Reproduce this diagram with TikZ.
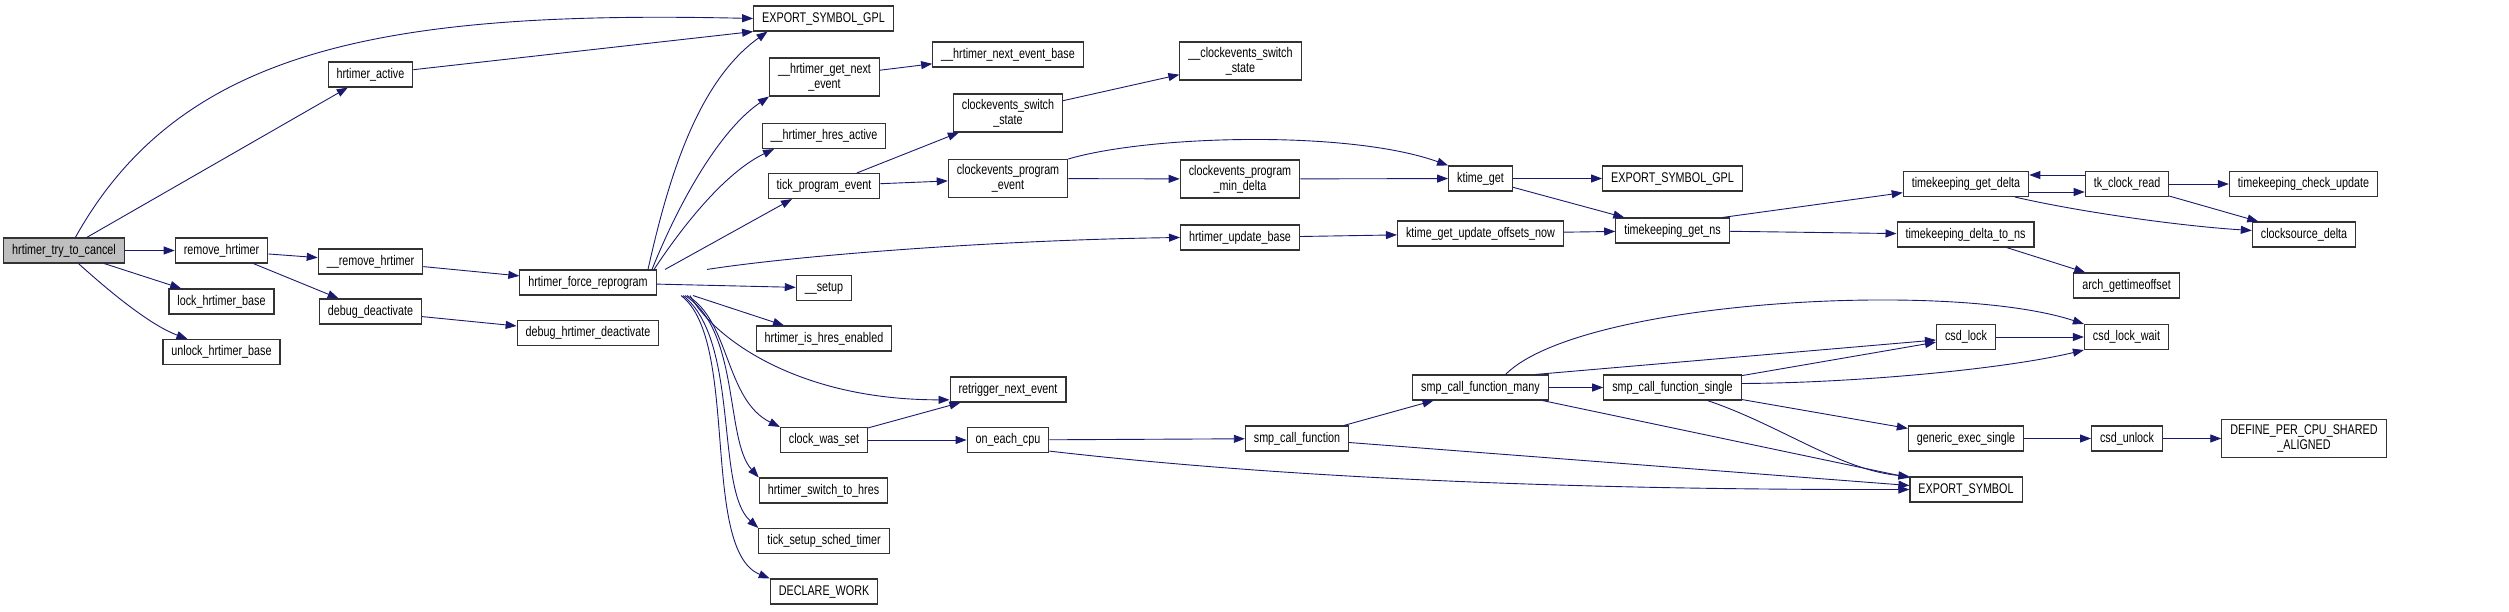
\documentclass[tikz,border=0pt]{standalone}
\usepackage{fontspec}
\setmainfont{Liberation Sans}[FakeStretch=0.77]
\usetikzlibrary{arrows.meta}
\definecolor{edgeblue}{HTML}{191970}
\definecolor{boxline}{HTML}{333333}
\definecolor{rootfill}{HTML}{BFBFBF}
\begin{document}
\begin{tikzpicture}[x=1pt, y=-1pt, >={Triangle[length=11pt,width=8pt]},
    fn/.style={draw=boxline, line width=1.1pt, fill=white, inner xsep=8.5pt, inner ysep=5pt,
      minimum height=25pt, align=center, font=\fontsize{14}{15}\selectfont},
    rootfn/.style={fn, fill=rootfill},
    call/.style={->, edgeblue, line width=0.9pt}]
    \useasboundingbox (0,0) rectangle (2509,611);
    % column 0 and 1
    \node[rootfn] (root)     at (64,250.5)   {hrtimer\_try\_to\_cancel};
    \node[fn]     (remove)   at (221.5,250.5) {remove\_hrtimer};
    \node[fn]     (lockb)    at (221.5,301.5) {lock\_hrtimer\_base};
    \node[fn]     (unlockb)  at (221.5,352)   {unlock\_hrtimer\_base};
    % column 2
    \node[fn] (active)   at (370.5,74.5)  {hrtimer\_active};
    \node[fn] (rmv)      at (370.5,261.5) {\_\_remove\_hrtimer};
    \node[fn] (dbgdeact) at (370.5,311.5) {debug\_deactivate};
    % column 3
    \node[fn] (force)  at (588,282.5) {hrtimer\_force\_reprogram};
    \node[fn] (dbghrt) at (588,333)   {debug\_hrtimer\_deactivate};
    % column 4
    \node[fn] (esgA)       at (823.5,18.5)  {EXPORT\_SYMBOL\_GPL};
    \node[fn] (getnext)    at (824.5,77)    {\_\_hrtimer\_get\_next\\\_event};
    \node[fn] (hresact)    at (824,136)     {\_\_hrtimer\_hres\_active};
    \node[fn] (tickprog)   at (824,186)     {tick\_program\_event};
    \node[fn] (setup)      at (824,288)     {\_\_setup};
    \node[fn] (ishres)     at (824,338.5)   {hrtimer\_is\_hres\_enabled};
    \node[fn] (clockset)   at (824,440)     {clock\_was\_set};
    \node[fn] (switchhres) at (823.5,490.5) {hrtimer\_switch\_to\_hres};
    \node[fn] (ticksched)  at (824,541)     {tick\_setup\_sched\_timer};
    \node[fn] (declwork)   at (824,591.5)   {DECLARE\_WORK};
    % column 5
    \node[fn] (nextbase) at (1008,54.5)  {\_\_hrtimer\_next\_event\_base};
    \node[fn] (csstate)  at (1008,113)   {clockevents\_switch\\\_state};
    \node[fn] (cpevent)  at (1008,178.5) {clockevents\_program\\\_event};
    \node[fn] (retrig)   at (1008,389.5) {retrigger\_next\_event};
    \node[fn] (oncpu)    at (1008,440)   {on\_each\_cpu};
    % column 6
    \node[fn] (csstate2) at (1240.5,61)  {\_\_clockevents\_switch\\\_state};
    \node[fn] (mindelta) at (1240,179)   {clockevents\_program\\\_min\_delta};
    \node[fn] (updbase)  at (1240,237.5) {hrtimer\_update\_base};
    \node[fn] (smpcall)  at (1297,438.5) {smp\_call\_function};
    % column 7
    \node[fn] (ktime)   at (1480.5,178.5) {ktime\_get};
    \node[fn] (offsets) at (1480.5,233.5) {ktime\_get\_update\_offsets\_now};
    \node[fn] (many)    at (1480.5,387.5) {smp\_call\_function\_many};
    % column 8
    \node[fn] (esgB)   at (1672.5,178.5) {EXPORT\_SYMBOL\_GPL};
    \node[fn] (getns)  at (1672.5,230.5) {timekeeping\_get\_ns};
    \node[fn] (single) at (1672.5,387.5) {smp\_call\_function\_single};
    % column 9
    \node[fn] (gdelta)  at (1966,184)    {timekeeping\_get\_delta};
    \node[fn] (dtons)   at (1965.5,234.5) {timekeeping\_delta\_to\_ns};
    \node[fn] (csdlock) at (1966,337)    {csd\_lock};
    \node[fn] (generic) at (1966,438.5)  {generic\_exec\_single};
    \node[fn] (esym)    at (1966,489.5)  {EXPORT\_SYMBOL};
    % column 10
    \node[fn] (tkread)   at (2127,184)    {tk\_clock\_read};
    \node[fn] (arch)     at (2126.5,285.5) {arch\_gettimeoffset};
    \node[fn] (lockwait) at (2126.5,337)  {csd\_lock\_wait};
    \node[fn] (unlock)   at (2127,438.5)  {csd\_unlock};
    % column 11
    \node[fn] (chkupd)  at (2303.5,184)  {timekeeping\_check\_update};
    \node[fn] (csdelta) at (2304,234.5)  {clocksource\_delta};
    \node[fn] (percpu)  at (2304,438.5)  {DEFINE\_PER\_CPU\_SHARED\\\_ALIGNED};

    % calls from hrtimer_try_to_cancel
    \draw[call] (root.49) .. controls (180,50) and (380,10) .. (esgA.west);
    \draw[call] (root) -- (active);
    \draw[call] (root) -- (remove);
    \draw[call] (root) -- (lockb);
    \draw[call] (root.-42) .. controls (110,292) and (150,325) .. (unlockb.159);
    \draw[call] (active) -- (esgA.south west);
    \draw[call] (remove) -- (rmv);
    \draw[call] (remove) -- (dbgdeact);
    \draw[call] (rmv) -- (force);
    \draw[call] (dbgdeact) -- (dbghrt);
    % hrtimer_force_reprogram, upper side
    \draw[call] ([xshift=60pt]force.north) .. controls (670,170) and (700,80) .. ([xshift=-56pt]esgA.south);
    \draw[call] ([xshift=64pt]force.north) .. controls (680,200) and (720,130) .. (getnext.south west);
    \draw[call] ([xshift=66pt]force.north) .. controls (690,215) and (730,170) .. ([xshift=-50pt]hresact.south);
    \draw[call] ([xshift=77pt]force.north) -- ([xshift=-32pt]tickprog.south);
    \draw[call] ([xshift=119pt]force.north) .. controls (800,255) and (1000,240) .. (updbase.west);
    \draw[call] (force) -- (setup);
    % hrtimer_force_reprogram, lower side
    \draw[call] ([xshift=105pt]force.south) -- ([xshift=-40pt]ishres.north);
    \draw[call] ([xshift=102pt]force.south) .. controls (715,340) and (800,400) .. (retrig.190);
    \draw[call] ([xshift=99pt]force.south) .. controls (730,320) and (725,400) .. (clockset.north west);
    \draw[call] ([xshift=97pt]force.south) .. controls (740,330) and (725,440) .. (switchhres.north west);
    \draw[call] ([xshift=95pt]force.south) .. controls (740,340) and (715,490) .. (ticksched.north west);
    \draw[call] ([xshift=93pt]force.south) .. controls (740,340) and (700,550) .. (declwork.north west);
    % clockevents and timekeeping
    \draw[call] (getnext) -- (nextbase);
    \draw[call] (tickprog) -- (csstate);
    \draw[call] (tickprog) -- (cpevent);
    \draw[call] (csstate) -- (csstate2);
    \draw[call] (cpevent.north east) .. controls (1150,135) and (1350,130) .. (ktime.north west);
    \draw[call] (cpevent) -- (mindelta);
    \draw[call] (mindelta) -- (ktime);
    \draw[call] (updbase) -- (offsets);
    \draw[call] (ktime) -- (esgB);
    \draw[call] (ktime) -- (getns);
    \draw[call] (offsets) -- (getns);
    \draw[call] ([xshift=50pt]getns.north) -- (gdelta);
    \draw[call] (getns) -- (dtons);
    \draw[call] ([yshift=-8pt]gdelta.east) -- ([yshift=-8pt]tkread.west);
    \draw[call] ([yshift=9pt]tkread.west) -- ([yshift=9pt]gdelta.east);
    \draw[call] ([xshift=49pt]gdelta.south) .. controls (2080,212) and (2180,226) .. ([yshift=4pt]csdelta.west);
    \draw[call] (tkread) -- (chkupd);
    \draw[call] (tkread) -- (csdelta);
    \draw[call] (dtons) -- (arch);
    % clock_was_set and smp calls
    \draw[call] (clockset) -- (retrig);
    \draw[call] (clockset) -- (oncpu);
    \draw[call] (oncpu) -- (smpcall);
    \draw[call] (oncpu.-15) .. controls (1300,480) and (1600,490) .. (esym.west);
    \draw[call] (smpcall) -- (many);
    \draw[call] (smpcall) -- ([yshift=4pt]esym.west);
    \draw[call] (many) -- (single);
    \draw[call] ([xshift=25pt]many.north) .. controls (1580,300) and (1950,280) .. (lockwait.north west);
    \draw[call] ([xshift=55pt]many.north) -- ([yshift=-3pt]csdlock.west);
    \draw[call] (many) -- (esym);
    \draw[call] (single) -- (csdlock);
    \draw[call] ([yshift=4pt]single.east) .. controls (1850,383) and (2000,370) .. (lockwait.south west);
    \draw[call] (single) -- (generic);
    \draw[call] ([xshift=35pt]single.south) .. controls (1780,425) and (1840,470) .. (esym.north west);
    \draw[call] (csdlock) -- (lockwait);
    \draw[call] (generic) -- (unlock);
    \draw[call] (unlock) -- (percpu);
\end{tikzpicture}
\end{document}
